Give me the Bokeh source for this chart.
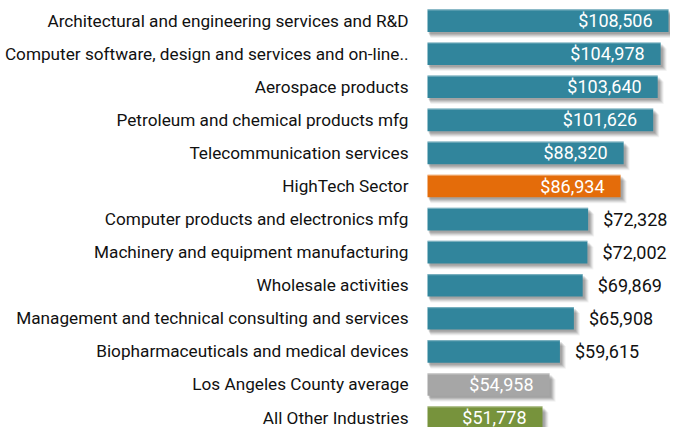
from bokeh.plotting import figure
from bokeh.models import Range1d, ColumnDataSource
from bokeh.core.properties import value
from bokeh.embed import file_html
from bokeh.resources import INLINE

categories = [
    "Architectural and engineering services and R&D",
    "Computer software, design and services and on-line..",
    "Aerospace products",
    "Petroleum and chemical products mfg",
    "Telecommunication services",
    "HighTech Sector",
    "Computer products and electronics mfg",
    "Machinery and equipment manufacturing",
    "Wholesale activities",
    "Management and technical consulting and services",
    "Biopharmaceuticals and medical devices",
    "Los Angeles County average",
    "All Other Industries",
]
wages = [108506, 104978, 103640, 101626, 88320, 86934, 72328, 72002,
         69869, 65908, 59615, 54958, 51778]

TEAL = "#31859C"
bar_colors = [TEAL, TEAL, TEAL, TEAL, TEAL, "#E46C0A", TEAL, TEAL, TEAL,
              TEAL, TEAL, "#A6A6A6", "#77933C"]
inside = [True, True, True, True, True, True, False, False, False, False,
          False, True, True]

FONT = "Roboto"

W, H = 670, 427
bar_left_px = 427.0                 # frame px where bars start
bar_max_px = 668.0                  # frame px where the longest bar ends
units_per_px = max(wages) / (bar_max_px - bar_left_px)
row_px = 33.08                      # pixels per row
first_center_px = 20.1              # frame px of first row center
bar_h = 22.6 / row_px

xr = Range1d(-bar_left_px * units_per_px, (W - bar_left_px) * units_per_px)
yr = Range1d((H - first_center_px) / row_px, -first_center_px / row_px)

p = figure(width=W, height=H, x_range=xr, y_range=yr,
           output_backend="svg", toolbar_location=None,
           min_border=0, min_border_left=0, min_border_right=0,
           min_border_top=0, min_border_bottom=0)
p.axis.visible = False
p.grid.visible = False
p.outline_line_color = None
p.background_fill_color = "white"
p.border_fill_color = "white"

ys = list(range(len(categories)))
src = ColumnDataSource(dict(
    y=ys, cat=categories, v=wages, color=bar_colors,
))

# soft drop shadows
for off, a in [(6, 0.05), (5, 0.07), (4, 0.09), (3, 0.10), (2, 0.10)]:
    p.hbar(y=[y + off / row_px for y in ys], left=off * units_per_px * 0.5,
           right=[w + off * units_per_px for w in wages],
           height=bar_h, fill_color="#000000", fill_alpha=a, line_color=None)

p.hbar(y="y", left=0, right="v", height=bar_h, fill_color="color",
       line_color=None, source=src)
# light top edge of each bar
p.hbar(y=[y - bar_h / 2 + 0.6 / row_px for y in ys], left=0, right=wages,
       height=1.2 / row_px, fill_color="white", fill_alpha=0.35, line_color=None)

# category labels
p.text(x=0, y="y", text="cat", source=src, x_offset=-19,
       text_align="right", text_baseline="middle",
       text_font=value(FONT), text_font_size="17.2px", text_color="#111111")

# value labels
def sub(flag):
    return ColumnDataSource(dict(
        y=[y for y, i in zip(ys, inside) if i == flag],
        v=[w for w, i in zip(wages, inside) if i == flag],
        lbl=["${:,}".format(w) for w, i in zip(wages, inside) if i == flag],
    ))

p.text(x="v", y="y", text="lbl", source=sub(True), x_offset=-16,
       text_align="right", text_baseline="middle",
       text_font=value(FONT), text_font_size="18px", text_color="white")
p.text(x="v", y="y", text="lbl", source=sub(False), x_offset=15,
       text_align="left", text_baseline="middle",
       text_font=value(FONT), text_font_size="18px", text_color="#111111")

open("out.html", "w").write(file_html(p, INLINE))
